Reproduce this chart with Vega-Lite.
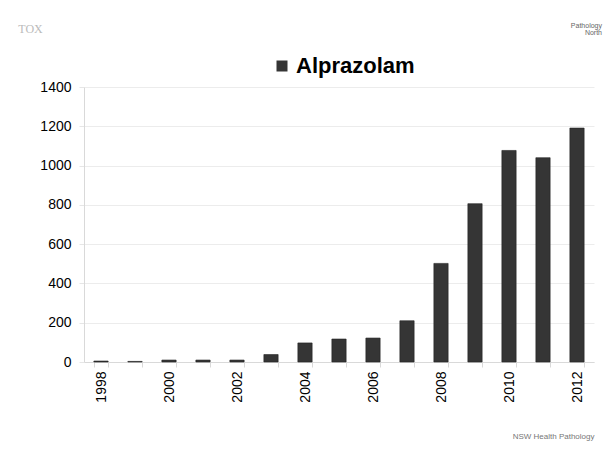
{
  "$schema": "https://vega.github.io/schema/vega-lite/v6.json",
  "width": 510,
  "height": 275,
  "autosize": {"type": "none"},
  "padding": {"left": 84, "top": 87, "right": 20, "bottom": 99},
  "background": "white",
  "title": {
    "text": ["Pathology", "North"],
    "anchor": "end",
    "align": "right",
    "orient": "top",
    "offset": 16,
    "dy": 30,
    "font": "Liberation Sans",
    "fontSize": 7,
    "fontWeight": "normal",
    "color": "#666666",
    "lineHeight": 7,
    "dx": 8
  },
  "data": {
    "values": [
      {"year": "1998", "count": 5, "drug": "Alprazolam"},
      {"year": "1999", "count": 3, "drug": "Alprazolam"},
      {"year": "2000", "count": 10, "drug": "Alprazolam"},
      {"year": "2001", "count": 10, "drug": "Alprazolam"},
      {"year": "2002", "count": 10, "drug": "Alprazolam"},
      {"year": "2003", "count": 38, "drug": "Alprazolam"},
      {"year": "2004", "count": 97, "drug": "Alprazolam"},
      {"year": "2005", "count": 117, "drug": "Alprazolam"},
      {"year": "2006", "count": 122, "drug": "Alprazolam"},
      {"year": "2007", "count": 210, "drug": "Alprazolam"},
      {"year": "2008", "count": 502, "drug": "Alprazolam"},
      {"year": "2009", "count": 806, "drug": "Alprazolam"},
      {"year": "2010", "count": 1077, "drug": "Alprazolam"},
      {"year": "2011", "count": 1040, "drug": "Alprazolam"},
      {"year": "2012", "count": 1191, "drug": "Alprazolam"}
    ]
  },
  "mark": {"type": "bar", "stroke": "#222222", "strokeWidth": 0.6},
  "encoding": {
    "x": {
      "field": "year",
      "type": "ordinal",
      "scale": {"paddingInner": 0.58, "paddingOuter": 0.29},
      "axis": {
        "title": "NSW Health Pathology",
        "titleAnchor": "end",
        "titleFont": "Liberation Sans",
        "titleFontSize": 8,
        "titleFontWeight": "normal",
        "titleColor": "#777777",
        "titlePadding": 30,
        "labelAngle": -90,
        "labelAlign": "right",
        "labelBaseline": "middle",
        "labelExpr": "toNumber(datum.value) % 2 == 0 ? datum.value : ''",
        "labelFont": "Liberation Sans",
        "labelFontSize": 14,
        "labelColor": "#000000",
        "labelPadding": 4,
        "tickBand": "extent",
        "tickSize": 5,
        "tickColor": "#d9d9d9",
        "domainColor": "#d9d9d9",
        "grid": false
      }
    },
    "y": {
      "field": "count",
      "type": "quantitative",
      "scale": {"domain": [0, 1400]},
      "axis": {
        "title": "TOX",
        "titleAngle": 0,
        "titleX": -54,
        "titleY": -52,
        "titleFont": "Liberation Serif",
        "titleFontSize": 12,
        "titleFontWeight": "normal",
        "titleColor": "#bbbbbb",
        "values": [0, 200, 400, 600, 800, 1000, 1200, 1400],
        "format": "d",
        "labelFont": "Liberation Sans",
        "labelFontSize": 14,
        "labelColor": "#000000",
        "labelPadding": 8,
        "tickSize": 5,
        "tickColor": "#e6e6e6",
        "domainColor": "#d9d9d9",
        "gridColor": "#ececec",
        "grid": true
      }
    },
    "color": {
      "field": "drug",
      "type": "nominal",
      "scale": {"range": ["#353535"]},
      "legend": {
        "title": null,
        "orient": "none",
        "legendX": 187,
        "legendY": -32,
        "symbolType": "square",
        "symbolSize": 121,
        "symbolStrokeWidth": 0,
        "symbolFillColor": "#353535",
        "labelFont": "Liberation Sans",
        "labelFontSize": 22,
        "labelFontWeight": "bold",
        "labelColor": "#000000",
        "labelOffset": 3
      }
    }
  },
  "config": {
    "view": {"stroke": null}
  }
}
